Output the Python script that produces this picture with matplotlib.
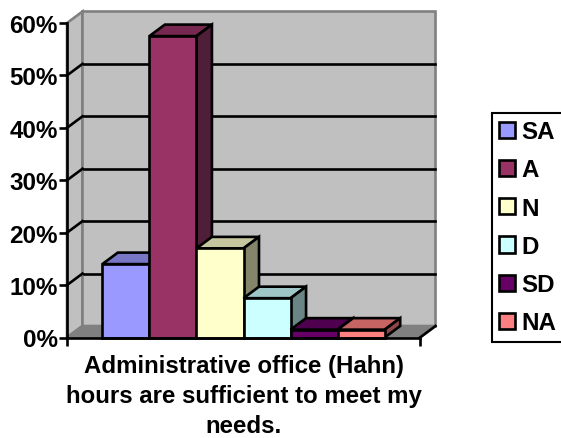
import matplotlib
matplotlib.use("Agg")
import matplotlib.pyplot as plt
from matplotlib.patches import Polygon, Patch

plt.rcParams['font.family'] = ['Liberation Sans', 'DejaVu Sans']
plt.rcParams['font.weight'] = 'bold'

categories = ['SA', 'A', 'N', 'D', 'SD', 'NA']
values = [14.0, 57.5, 17.0, 7.5, 1.5, 1.5]
colors = ['#9999FF', '#993366', '#FFFFCC', '#CCFFFF', '#660066', '#FF8080']
top_colors = ['#7777C6', '#772850', '#C6C69F', '#9FC6C6', '#4F004F', '#C66464']
side_colors = ['#55558E', '#4F1E38', '#85856A', '#6A8585', '#330033', '#8E4747']
yticks = [0, 10, 20, 30, 40, 50, 60]
ylabels = ['0%', '10%', '20%', '30%', '40%', '50%', '60%']
title = 'Administrative office (Hahn)\nhours are sufficient to meet my\nneeds.'

W, H = 561, 439
fig = plt.figure(figsize=(W / 100, H / 100), dpi=100)
L, R, T, B = 67, 420, 24, 338.5
ax = fig.add_axes([L / W, 1 - B / H, (R - L) / W, (B - T) / H])
ax.set_xlim(-0.75, 6.75)
ax.set_ylim(0, 60)
ax.patch.set_visible(False)
for s in ax.spines.values():
    s.set_visible(False)

dx = 15.5 / 47.07   # depth offset in category units
dy = 11.5 / 5.24    # depth offset in percent units
lw = 1.9

def poly(pts, fc, ec='black', z=2, lw_=lw):
    ax.add_patch(Polygon(pts, closed=True, fc=fc, ec=ec, lw=lw_, zorder=z,
                         clip_on=False, joinstyle='miter'))

x0, x1 = -0.75, 6.75
# walls and floor
poly([(x0, 0), (x0 + dx, dy), (x0 + dx, 60 + dy), (x0, 60)], '#C0C0C0', '#808080', 1)
poly([(x0 + dx, dy), (x1 + dx, dy), (x1 + dx, 60 + dy), (x0 + dx, 60 + dy)], '#C0C0C0', '#808080', 1)
poly([(x0, 0), (x1, 0), (x1 + dx, dy), (x0 + dx, dy)], '#808080', '#808080', 1)

# gridlines along side wall and back wall
for t in yticks[1:-1]:
    ax.plot([x0, x0 + dx], [t, t + dy], color='black', lw=lw, zorder=1.5, clip_on=False)
    ax.plot([x0 + dx + 0.03, x1 + dx], [t + dy, t + dy], color='black', lw=lw, zorder=1.5, clip_on=False)
ax.plot([x1, x1 + dx], [0, dy], color='black', lw=lw, zorder=1.5, clip_on=False)

# bars, drawn left to right so each hides the side of the previous one
for i, (v, c, tc, sc) in enumerate(zip(values, colors, top_colors, side_colors)):
    z = 3 + i
    poly([(i, v), (i + 1, v), (i + 1 + dx, v + dy), (i + dx, v + dy)], tc, z=z)
    poly([(i + 1, 0), (i + 1 + dx, dy), (i + 1 + dx, v + dy), (i + 1, v)], sc, z=z)
    ax.bar(i, v, width=1, align='edge', color=c, edgecolor='black', linewidth=lw, zorder=z + 0.5,
           clip_on=False)

ax.set_yticks(yticks)
ax.set_yticklabels(ylabels, fontsize=17.4, fontweight='bold')
ax.set_xticks([x0, x1])
ax.set_xticklabels([])
ax.tick_params(axis='y', length=5.5, width=lw, pad=1)
ax.tick_params(axis='x', length=6, width=lw)
ax.plot([x0, x0], [0, 60], color='black', lw=lw, zorder=20, clip_on=False)
ax.plot([x0, x1], [0, 0], color='black', lw=lw, zorder=20, clip_on=False)

fig.text(243.5 / W, 1 - 355.5 / H, title, ha='center', va='top', fontsize=17.3, fontweight='bold',
         linespacing=1.37)

handles = [Patch(fc=c, ec='black', lw=1.9) for c in colors]
leg = fig.legend(handles, categories, loc='upper left', bbox_to_anchor=(492 / W, 1 - 114 / H),
                 bbox_transform=fig.transFigure, frameon=True, fancybox=False, edgecolor='black',
                 framealpha=1, prop={'family': 'Liberation Sans', 'weight': 'bold', 'size': 17.4},
                 handlelength=0.66, handleheight=0.66, handletextpad=0.25, labelspacing=0.63,
                 borderpad=0.3, borderaxespad=0, ncols=1)
leg.get_frame().set_linewidth(1.5)

fig.savefig('out.png', dpi=100)
